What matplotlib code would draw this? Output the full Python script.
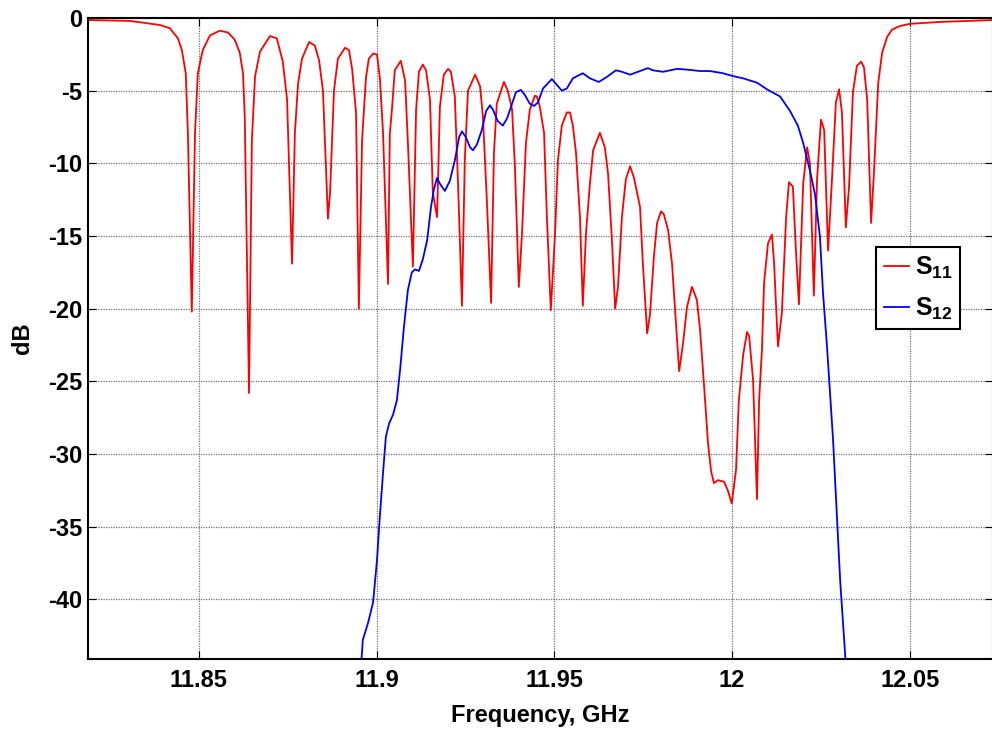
import numpy as np
import matplotlib
matplotlib.use("Agg")
import matplotlib.pyplot as plt

# S11 (GHz, dB)
f11 = [11.8188, 11.8306, 11.8390, 11.8418, 11.8441, 11.8452, 11.8463, 11.8469, 11.8480, 11.8489,
       11.8497, 11.8511, 11.8531, 11.8559, 11.8582, 11.8601, 11.8615, 11.8624, 11.8629, 11.8641,
       11.8649, 11.8658, 11.8672, 11.8700, 11.8719, 11.8736, 11.8748, 11.8762, 11.8770, 11.8779,
       11.8790, 11.8810, 11.8826, 11.8838, 11.8849, 11.8863, 11.8869, 11.8880, 11.8891, 11.8911,
       11.8922, 11.8931, 11.8942, 11.8950, 11.8959, 11.8970, 11.8978, 11.8990, 11.9001, 11.9009,
       11.9018, 11.9032, 11.9037, 11.9043, 11.9051, 11.9068, 11.9080, 11.9088, 11.9102, 11.9111,
       11.9119, 11.9130, 11.9139, 11.9150, 11.9158, 11.9170, 11.9178, 11.9189, 11.9201, 11.9209,
       11.9220, 11.9229, 11.9240, 11.9248, 11.9257, 11.9277, 11.9291, 11.9299, 11.9310, 11.9322,
       11.9330, 11.9338, 11.9358, 11.9369, 11.9381, 11.9389, 11.9400, 11.9409, 11.9420, 11.9431,
       11.9445, 11.9451, 11.9459, 11.9471, 11.9479, 11.9490, 11.9502, 11.9510, 11.9521, 11.9535,
       11.9544, 11.9552, 11.9561, 11.9572, 11.9580, 11.9589, 11.9600, 11.9609, 11.9628, 11.9642,
       11.9651, 11.9662, 11.9671, 11.9679, 11.9690, 11.9701, 11.9713, 11.9724, 11.9741, 11.9749,
       11.9761, 11.9769, 11.9780, 11.9789, 11.9800, 11.9808, 11.9820, 11.9831, 11.9851, 11.9862,
       11.9873, 11.9887, 11.9901, 11.9910, 11.9924, 11.9932, 11.9941, 11.9949, 11.9960, 11.9977,
       11.9988, 11.9999, 12.0011, 12.0019, 12.0031, 12.0042, 12.0048, 12.0059, 12.0070, 12.0076,
       12.0084, 12.0090, 12.0101, 12.0112, 12.0118, 12.0129, 12.0140, 12.0152, 12.0160, 12.0171,
       12.0180, 12.0188, 12.0200, 12.0211, 12.0219, 12.0230, 12.0239, 12.0250, 12.0259, 12.0270,
       12.0281, 12.0292, 12.0301, 12.0309, 12.0320, 12.0329, 12.0340, 12.0351, 12.0363, 12.0371,
       12.0380, 12.0391, 12.0399, 12.0411, 12.0422, 12.0436, 12.0450, 12.0472, 12.0501, 12.0585,
       12.0734]
s11 = [-0.14, -0.2, -0.48, -0.7, -1.4, -2.2, -3.8, -7.9, -20.2, -7.9,
       -3.8, -2.2, -1.2, -0.87, -1.0, -1.5, -2.4, -3.8, -6.8, -25.8,
       -8.4, -4.0, -2.3, -1.24, -1.4, -3.0, -5.6, -16.9, -7.9, -4.5,
       -2.8, -1.65, -1.9, -2.9, -5.0, -13.8, -12.0, -5.0, -2.8, -2.05,
       -2.2, -3.5, -6.5, -20.0, -8.4, -4.1, -2.8, -2.45, -2.5, -4.1,
       -7.9, -18.3, -8.0, -6.3, -3.6, -2.95, -4.3, -8.6, -17.1, -6.3,
       -3.7, -3.2, -3.6, -5.6, -12.0, -13.7, -6.1, -3.9, -3.5, -3.7,
       -5.4, -11.4, -19.8, -9.8, -5.0, -3.9, -4.7, -6.8, -12.5, -19.6,
       -9.3, -5.9, -4.4, -5.0, -6.3, -10.2, -18.5, -14.8, -8.6, -6.3,
       -5.35, -5.4, -6.1, -7.9, -13.7, -20.1, -14.8, -9.8, -7.4, -6.5,
       -6.5, -7.4, -9.3, -13.7, -19.8, -14.8, -11.4, -9.1, -7.9, -8.9,
       -10.7, -15.3, -20.0, -18.5, -13.7, -11.1, -10.2, -11.0, -13.0, -16.9,
       -21.7, -20.4, -16.4, -14.1, -13.3, -13.5, -14.6, -16.9, -24.3, -22.4,
       -19.9, -18.5, -19.4, -21.5, -26.3, -29.2, -31.2, -32.0, -31.8, -31.9,
       -32.5, -33.4, -31.1, -26.3, -23.2, -21.6, -21.9, -24.9, -33.1, -26.3,
       -22.8, -18.2, -15.5, -14.9, -16.8, -22.6, -20.3, -13.7, -11.3, -11.6,
       -16.2, -19.7, -11.4, -8.9, -10.0, -19.1, -11.1, -7.0, -7.7, -16.0,
       -11.1, -5.8, -4.9, -6.5, -14.4, -11.6, -5.1, -3.3, -3.0, -3.4,
       -5.6, -14.1, -10.7, -4.5, -2.4, -1.3, -0.8, -0.55, -0.4, -0.27,
       -0.14]

# S12
f12 = [11.8956, 11.8959, 11.8961, 11.8976, 11.8990, 11.9001, 11.9009, 11.9018, 11.9026, 11.9035,
       11.9046, 11.9057, 11.9066, 11.9077, 11.9088, 11.9099, 11.9108, 11.9119, 11.9130, 11.9142,
       11.9153, 11.9161, 11.9170, 11.9178, 11.9192, 11.9206, 11.9220, 11.9232, 11.9240, 11.9251,
       11.9263, 11.9271, 11.9282, 11.9296, 11.9308, 11.9319, 11.9327, 11.9341, 11.9355, 11.9367,
       11.9381, 11.9392, 11.9406, 11.9417, 11.9431, 11.9443, 11.9454, 11.9468, 11.9493, 11.9507,
       11.9521, 11.9535, 11.9552, 11.9580, 11.9600, 11.9625, 11.9648, 11.9673, 11.9690, 11.9713,
       11.9735, 11.9763, 11.9777, 11.9806, 11.9845, 11.9873, 11.9910, 11.9938, 11.9974, 12.0003,
       12.0031, 12.0070, 12.0101, 12.0135, 12.0163, 12.0185, 12.0200, 12.0219, 12.0233, 12.0247,
       12.0256, 12.0267, 12.0284, 12.0304, 12.0320]
s12 = [-44.5, -43.6, -42.8, -41.6, -40.2, -37.3, -34.3, -31.3, -28.8, -27.9,
       -27.3, -26.3, -24.2, -21.2, -18.7, -17.5, -17.3, -17.4, -16.6, -15.3,
       -13.0, -11.8, -11.0, -11.4, -11.9, -11.2, -9.8, -8.2, -7.8, -8.2,
       -8.9, -9.1, -8.7, -7.7, -6.4, -6.0, -6.3, -7.1, -7.4, -6.9,
       -5.9, -5.1, -4.95, -5.3, -5.9, -6.05, -5.8, -4.85, -4.2, -4.6,
       -5.0, -4.85, -4.15, -3.8, -4.15, -4.4, -4.05, -3.6, -3.7, -3.9,
       -3.7, -3.45, -3.6, -3.7, -3.5, -3.55, -3.65, -3.65, -3.8, -4.0,
       -4.15, -4.45, -4.95, -5.4, -6.4, -7.4, -8.6, -10.5, -12.1, -15.0,
       -19.0, -22.6, -29.0, -38.7, -44.5]

xticks = [11.85, 11.9, 11.95, 12.0, 12.05]
xticklabels = ["11.85", "11.9", "11.95", "12", "12.05"]
yticks = [0, -5, -10, -15, -20, -25, -30, -35, -40]

plt.rcParams['font.family'] = ['Liberation Sans', 'DejaVu Sans']
plt.rcParams['font.weight'] = 'bold'
plt.rcParams['axes.unicode_minus'] = False
plt.rcParams['mathtext.fontset'] = 'custom'
plt.rcParams['mathtext.bf'] = 'Liberation Sans:bold'
plt.rcParams['mathtext.rm'] = 'Liberation Sans:bold'

fig = plt.figure(figsize=(9.92, 7.31), dpi=100)
ax = fig.add_axes([88/992, 72/731, 905/992, 641/731])

ax.plot(f11, s11, color='red', lw=1.3, label=r'$\mathbf{S_{11}}$')
ax.plot(f12, s12, color='blue', lw=1.3, label=r'$\mathbf{S_{12}}$')

ax.set_xlim(11.8188, 12.0734)
ax.set_ylim(-44.1, 0)
ax.set_xticks(xticks)
ax.set_xticklabels(xticklabels)
ax.set_yticks(yticks)
ax.tick_params(direction='in', length=6, width=0.8, labelsize=17,
               top=True, right=True)
ax.tick_params(axis='x', pad=7)
ax.tick_params(axis='y', pad=4)
ax.grid(True, color='#707070', linestyle=(0, (1, 1)), linewidth=0.9)
for sp in ax.spines.values():
    sp.set_linewidth(1.5)

ax.set_xlabel('Frequency, GHz', fontsize=17, fontweight='bold', labelpad=9)
ax.set_ylabel('dB', fontsize=17, fontweight='bold', labelpad=10)

leg = ax.legend(loc='upper left', bbox_to_anchor=(0.871, 0.643), fontsize=18,
                fancybox=False, edgecolor='black', framealpha=1,
                handlelength=1.0, handletextpad=0.25, borderpad=0.3,
                labelspacing=0.6, borderaxespad=0)
leg.get_frame().set_linewidth(1.5)

fig.savefig('out.png', dpi=100)
